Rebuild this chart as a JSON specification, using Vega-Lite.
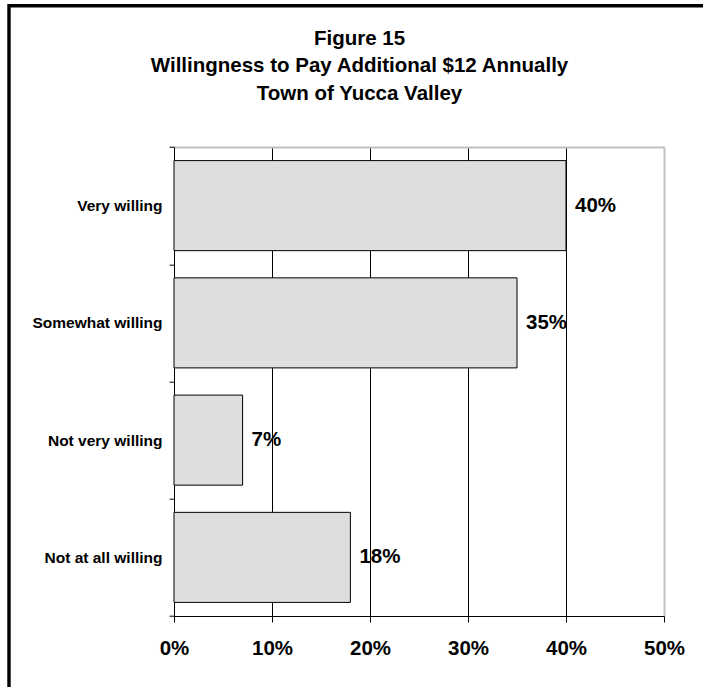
{
  "$schema": "https://vega.github.io/schema/vega-lite/v6.json",
  "autosize": {"type": "none"},
  "padding": {"left": 9, "top": 5.7, "right": -7, "bottom": -70.3},
  "width": 701,
  "height": 751.6,
  "background": "white",
  "title": {
    "text": ["Figure 15", "Willingness to Pay Additional $12 Annually", "Town of Yucca Valley"],
    "anchor": "middle",
    "frame": "group",
    "font": "Liberation Sans",
    "fontSize": 20.5,
    "fontWeight": "bold",
    "color": "black",
    "baseline": "alphabetic",
    "lineHeight": 27.8,
    "offset": -122
  },
  "config": {
    "view": {"stroke": "black", "strokeWidth": 3.4},
    "font": "Liberation Sans"
  },
  "data": {
    "values": [
      {"response": "Very willing", "share": 0.40},
      {"response": "Somewhat willing", "share": 0.35},
      {"response": "Not very willing", "share": 0.07},
      {"response": "Not at all willing", "share": 0.18}
    ]
  },
  "encoding": {
    "y": {
      "field": "response",
      "type": "nominal",
      "sort": null,
      "scale": {"range": [141.3, 610.3], "paddingInner": 0, "paddingOuter": 0}
    }
  },
  "layer": [
    {
      "mark": {"type": "bar", "fill": "#dedede", "stroke": "black", "strokeWidth": 1, "height": {"band": 0.768}},
      "encoding": {
        "x": {
          "field": "share",
          "type": "quantitative",
          "scale": {"domain": [0, 0.5], "range": [165, 655], "nice": false},
          "axis": {
            "orient": "bottom",
            "offset": -141.3,
            "title": null,
            "values": [0, 0.1, 0.2, 0.3, 0.4, 0.5],
            "format": ".0%",
            "labelFlush": false,
            "labelFont": "Liberation Sans",
            "labelFontSize": 20.5,
            "labelFontWeight": "bold",
            "labelColor": "black",
            "labelPadding": 16,
            "tickSize": 6,
            "tickColor": "black",
            "domainColor": "black",
            "domainWidth": 1,
            "grid": true,
            "gridColor": {"condition": {"test": "datum.value >= 0.5", "value": "#c0c0c0"}, "value": "black"},
            "gridWidth": {"condition": {"test": "datum.value >= 0.5", "value": 2}, "value": 1},
            "gridOpacity": 1
          }
        },
        "y": {
          "field": "response",
          "type": "nominal",
          "sort": null,
          "axis": {
            "orient": "left",
            "offset": -165,
            "title": null,
            "tickBand": "extent",
            "labelFont": "Liberation Sans",
            "labelFontSize": 15.5,
            "labelFontWeight": "bold",
            "labelColor": "black",
            "labelPadding": 7,
            "labelLimit": 300,
            "tickSize": 5,
            "tickColor": "black",
            "domainColor": "black",
            "domainWidth": 1,
            "grid": false
          }
        }
      }
    },
    {
      "mark": {
        "type": "text",
        "align": "left",
        "baseline": "middle",
        "dx": 9,
        "font": "Liberation Sans",
        "fontSize": 20.5,
        "fontWeight": "bold",
        "color": "black"
      },
      "encoding": {
        "x": {
          "field": "share",
          "type": "quantitative",
          "axis": {
            "orient": "top",
            "offset": -141.3,
            "title": null,
            "labels": false,
            "ticks": false,
            "grid": false,
            "domainColor": "#c0c0c0",
            "domainWidth": 2
          }
        },
        "text": {"field": "share", "type": "quantitative", "format": ".0%"}
      }
    }
  ],
  "resolve": {"axis": {"x": "independent"}}
}
